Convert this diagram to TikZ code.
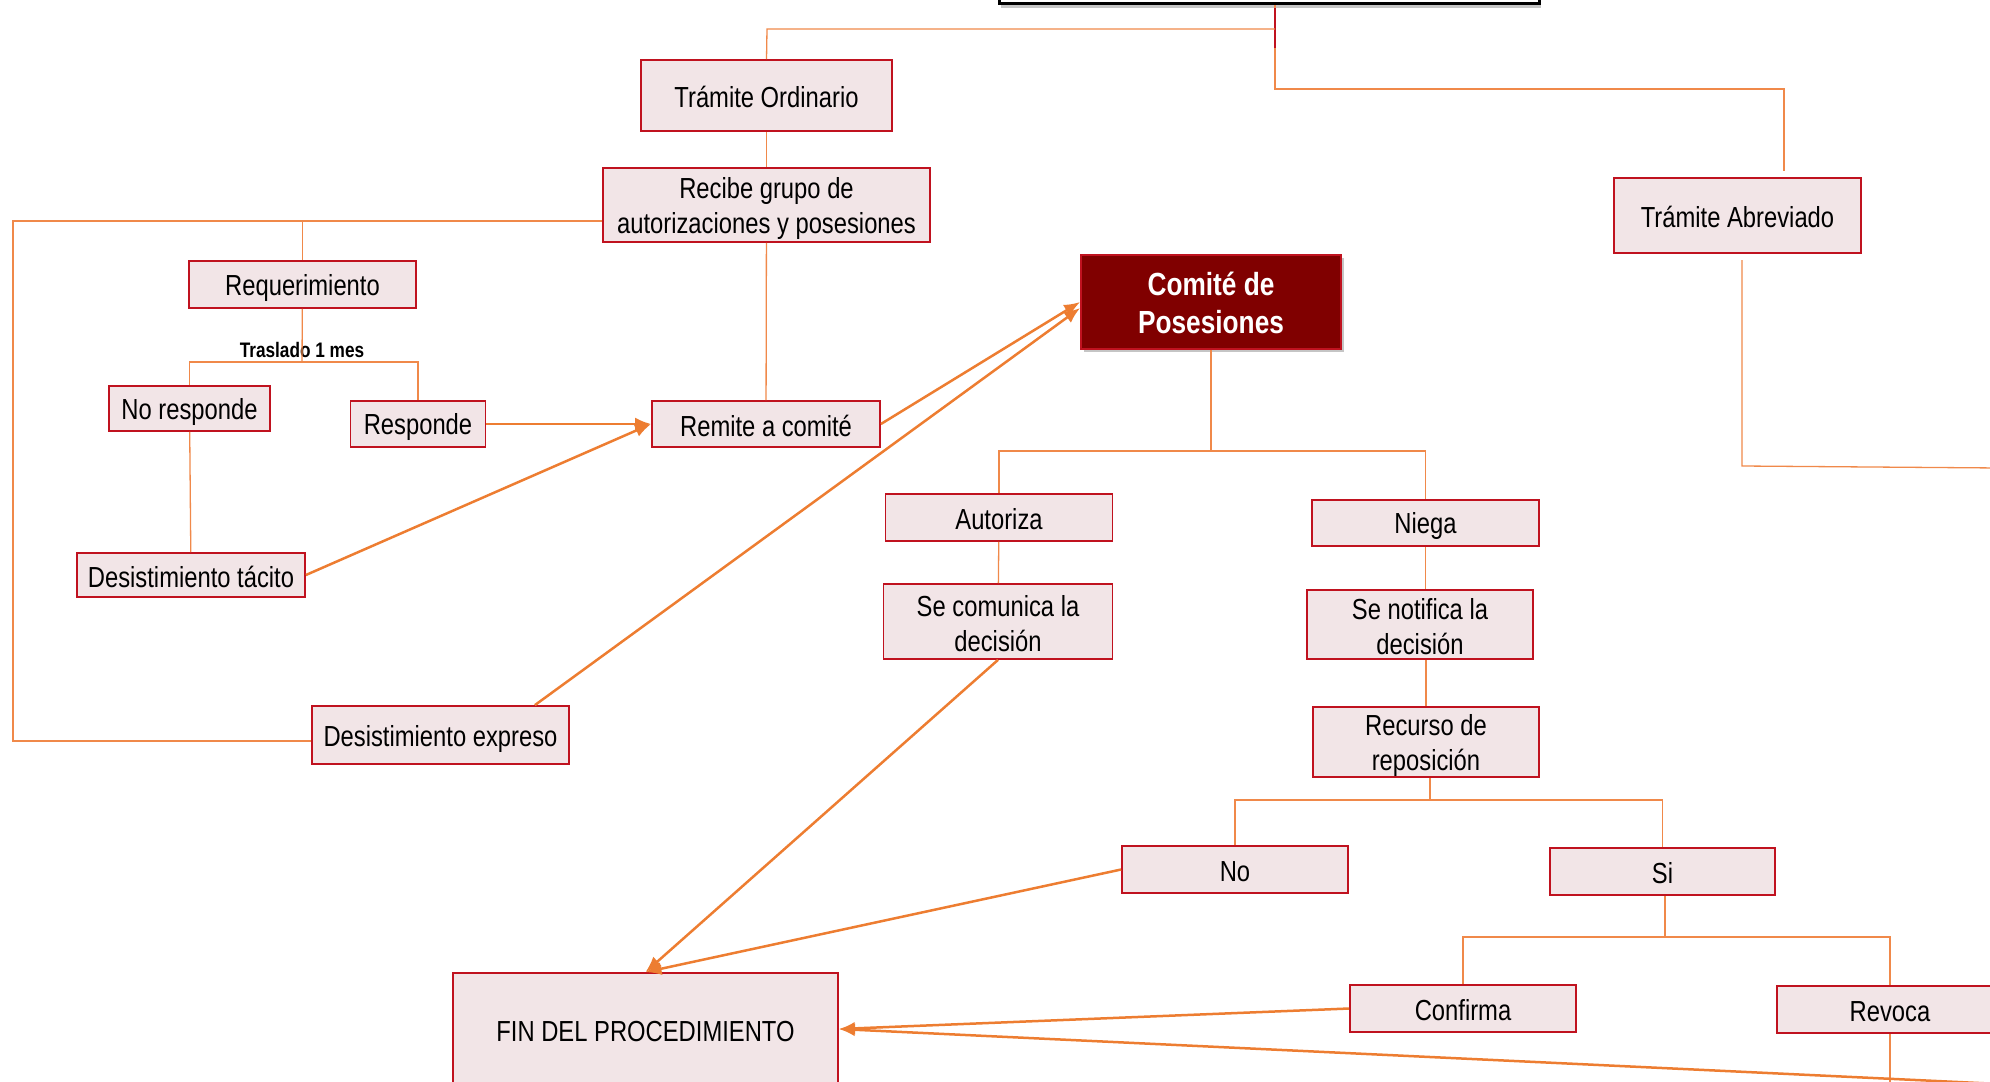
\documentclass[tikz,border=0pt]{standalone}
\usepackage{fontspec}
\setmainfont[FakeStretch=0.82]{Liberation Sans}
\usepackage{tikz}
\usetikzlibrary{shapes,shadows,arrows,arrows.meta}
\definecolor{boxRed}{HTML}{C0121F}
\definecolor{boxFill}{HTML}{F2E5E7}
\definecolor{lineOrange}{HTML}{F0894A}
\definecolor{arrowOrange}{HTML}{ED7D31}
\definecolor{comiteRed}{HTML}{800000}
\newcommand{\lineaAlta}{\vrule width 0pt height 14pt depth 0pt}
\newcommand{\lineaBaja}{\vrule width 0pt height 0pt depth 2pt}
\tikzstyle{block} = [draw=boxRed,rectangle,fill=boxFill,line width=0.9pt,align=center,inner xsep=2pt,inner ysep=0pt,font=\fontsize{14.5}{17.5}\selectfont,execute at begin node=\lineaAlta,execute at end node=\lineaBaja]
\tikzstyle{comiteBlock} = [block,fill=comiteRed,text=white,font=\fontsize{16}{19}\selectfont\bfseries,drop shadow={shadow xshift=1.5pt,shadow yshift=-1.5pt,fill=black!45}]
\tikzstyle{topBar} = [draw=black,rectangle,fill=white,line width=1.5pt,drop shadow={shadow xshift=1pt,shadow yshift=-2pt,fill=black!45}]
\tikzstyle{line} = [draw=lineOrange,line width=0.65pt]
\tikzstyle{arrowLine} = [draw=arrowOrange,-{Latex[length=8pt,width=6.5pt]},line width=1.25pt]

\begin{document}
\begin{tikzpicture}[x=0.5pt,y=-0.5pt]
		\useasboundingbox (0,0) rectangle (1990,1081);
		\node[topBar,minimum width=270pt,minimum height=30pt](titulo) at (1269,-26){};
		\node[block,minimum width=125.5pt,minimum height=35.5pt](tramiteOrdinario) at (766.5,95.5){Trámite Ordinario};
		\node[block,minimum width=163.5pt,minimum height=37pt](recibeGrupo) at (766.5,205){\lineaAlta Recibe grupo de\\autorizaciones y posesiones};
		\node[block,minimum width=113.5pt,minimum height=23.5pt](requerimiento) at (302.5,284.5){Requerimiento};
		\node[font=\fontsize{10.5}{12}\selectfont\bfseries](traslado) at (302,350){Traslado 1 mes};
		\node[block,minimum width=80.5pt,minimum height=22.5pt](noResponde) at (189.5,408.5){No responde};
		\node[block,minimum width=67.5pt,minimum height=23pt](responde) at (418,424){Responde};
		\node[block,minimum width=114pt,minimum height=23pt](remite) at (766,424){Remite a comité};
		\node[block,minimum width=114pt,minimum height=22pt](tacito) at (191,575){Desistimiento tácito};
		\node[block,minimum width=128.5pt,minimum height=29pt](expreso) at (440.5,735){Desistimiento expreso};
		\node[comiteBlock,minimum width=130pt,minimum height=47pt](comite) at (1211,302){\lineaAlta Comité de\\Posesiones};
		\node[block,minimum width=123.5pt,minimum height=37.5pt](tramiteAbreviado) at (1737.5,215.5){Trámite Abreviado};
		\node[block,minimum width=113.5pt,minimum height=23.5pt](autoriza) at (999,517.5){Autoriza};
		\node[block,minimum width=113.5pt,minimum height=23pt](niega) at (1425.5,523){Niega};
		\node[block,minimum width=114.5pt,minimum height=37.5pt](comunica) at (998,621.5){\lineaAlta Se comunica la\\decisión};
		\node[block,minimum width=113pt,minimum height=34.5pt](notifica) at (1420,624.5){\lineaAlta Se notifica la\\decisión};
		\node[block,minimum width=113pt,minimum height=35pt](recurso) at (1426,742){\lineaAlta Recurso de\\reposición};
		\node[block,minimum width=113pt,minimum height=23.5pt](no) at (1235,869.5){No};
		\node[block,minimum width=112.5pt,minimum height=23.5pt](si) at (1662.5,871.5){Si};
		\node[block,minimum width=113pt,minimum height=23.5pt](confirma) at (1463,1008.5){Confirma};
		\node[block,minimum width=113pt,minimum height=23.5pt](revoca) at (1890,1009.5){Revoca};
		\node[block,minimum width=192.5pt,minimum height=56pt](fin) at (645.5,1029){FIN DEL PROCEDIMIENTO};
		%branch points
		\coordinate (raiz) at (1275,29);
		\coordinate (raizBaja) at (1275,89);
		\coordinate (ramaOrd) at (767,29);
		\coordinate (ramaAbr) at (1784,89);
		\coordinate (ramaAbrFin) at (1784,171);
		\coordinate (abrevTop) at (1742,260);
		\coordinate (abrevBot) at (1742,466);
		\coordinate (abrevFin) at (2000,468);
		\coordinate (bucleSup) at (13,221);
		\coordinate (bucleInf) at (13,741);
		\coordinate (ramaResp) at (302,362);
		\coordinate (decision) at (1211,451);
		\coordinate (ramaRecurso) at (1430,800);
		\coordinate (ramaSi) at (1665,937);
		\coordinate (revocaFin) at (1890,1095);
		\coordinate (fueraDerecha) at (2000,1084);
		%lines
		\path[line]([xshift=3pt]titulo.south)--(raizBaja)--(ramaAbr)--(ramaAbrFin);
		\path[draw=boxRed,line width=0.8pt]([xshift=3pt,yshift=-1.5pt]titulo.south)--++(0,40);
		\path[line](raiz)--(ramaOrd)--(tramiteOrdinario.north);
		\path[line](abrevTop)--(abrevBot)--(abrevFin);
		\path[line](tramiteOrdinario)--(recibeGrupo);
		\path[line](recibeGrupo.west |- bucleSup)--(bucleSup)--(bucleInf)--(expreso.west |- bucleInf);
		\path[line](requerimiento.north |- bucleSup)--(requerimiento.north);
		\path[line](requerimiento)--(ramaResp);
		\path[line](noResponde.north)--(noResponde.north |- ramaResp)--(responde.north |- ramaResp)--(responde.north);
		\path[line](noResponde)--(tacito);
		\path[line](recibeGrupo)--(remite);
		\path[line](comite)--(decision);
		\path[line](autoriza.north)--(autoriza.north |- decision)--(niega.north |- decision)--(niega.north);
		\path[line](autoriza)--(comunica);
		\path[line](niega.south)--(niega.south |- notifica.north);
		\path[line](notifica.south -| recurso.north)--(recurso.north);
		\path[line](recurso.south -| ramaRecurso)--(ramaRecurso);
		\path[line](no.north)--(no.north |- ramaRecurso)--(si.north |- ramaRecurso)--(si.north);
		\path[line](si.south -| ramaSi)--(ramaSi);
		\path[line](confirma.north)--(confirma.north |- ramaSi)--(revoca.north |- ramaSi)--(revoca.north);
		\path[line](revoca)--(revocaFin);
		%arrows
		\path[arrowLine](responde)--(remite);
		\path[arrowLine](tacito.east)--(remite.west);
		\path[arrowLine](remite.east)--(comite.west);
		\path[arrowLine]([xshift=-17.5pt]expreso.north east)--([yshift=-3pt]comite.west);
		\path[arrowLine](comunica.south)--(fin.north);
		\path[arrowLine](no.west)--(fin.north);
		\path[arrowLine](confirma.west)--(fin.east);
		\path[arrowLine](fueraDerecha)--(fin.east);
	\end{tikzpicture}
\end{document}
